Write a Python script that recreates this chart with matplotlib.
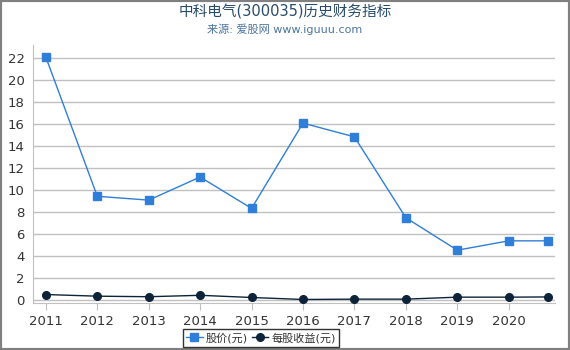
import matplotlib
matplotlib.use('Agg')
import matplotlib.pyplot as plt
from matplotlib.patches import Rectangle

plt.rcParams['font.family'] = ['DejaVu Sans', 'Noto Sans CJK SC']

years = [2011, 2012, 2013, 2014, 2015, 2016, 2017, 2018, 2019, 2020, 2020.76]
price = [22.1, 9.45, 9.1, 11.2, 8.35, 16.1, 14.85, 7.5, 4.55, 5.4, 5.4]
eps = [0.52, 0.37, 0.32, 0.45, 0.25, 0.07, 0.1, 0.1, 0.28, 0.28, 0.3]
xticks = [2011, 2012, 2013, 2014, 2015, 2016, 2017, 2018, 2019, 2020]
yticks = list(range(0, 23, 2))

fig = plt.figure(figsize=(5.7, 3.5), dpi=100)
ax = fig.add_axes([33/570, 1 - 303/350, (555-33)/570, (303-45)/350])

ax.plot(years, price, color='#2f7ed8', lw=1, marker='s', ms=5.5,
        label='股价(元)', zorder=3)
ax.plot(years, eps, color='#0d233a', lw=1, marker='o', ms=5.5,
        label='每股收益(元)', zorder=3)

ax.set_xlim(2010.75, 2020.9)
ax.set_ylim(-0.25, 23.2)
ax.set_xticks(xticks)
ax.set_yticks(yticks)
ax.grid(axis='y', color='#c0c0c0', lw=1)
ax.set_axisbelow(True)
for s in ['top', 'right']:
    ax.spines[s].set_visible(False)
ax.spines['left'].set_color('#c0c0c0')
ax.spines['bottom'].set_color('#c0c0c0')
ax.tick_params(axis='y', length=0, labelsize=9.5, colors='#333333', pad=6)
ax.tick_params(axis='x', length=5, color='#c0c0c0', labelsize=9.5, labelcolor='#333333')

fig.text(0.5, 0.967, '中科电气(300035)历史财务指标', ha='center', va='center',
         fontsize=10.5, color='#274b6d')
fig.text(0.5, 0.917, '来源: 爱股网 www.iguuu.com', ha='center', va='center',
         fontsize=8, color='#4d759e')

leg = fig.legend(*ax.get_legend_handles_labels(), loc='center',
                 bbox_to_anchor=(261/570, 1 - 338/350), ncol=2,
                 frameon=True, fancybox=False, fontsize=8, handlelength=1.5,
                 handletextpad=0.3, columnspacing=0.3, borderpad=0.3)
leg.get_frame().set_edgecolor('black')
leg.get_frame().set_linewidth(1)
for t in leg.get_texts():
    t.set_color('#333333')

fig.patches.append(Rectangle((0, 0), 1, 1, transform=fig.transFigure,
                             fill=False, edgecolor='#808080', lw=3))

fig.savefig('out.png', dpi=100)
